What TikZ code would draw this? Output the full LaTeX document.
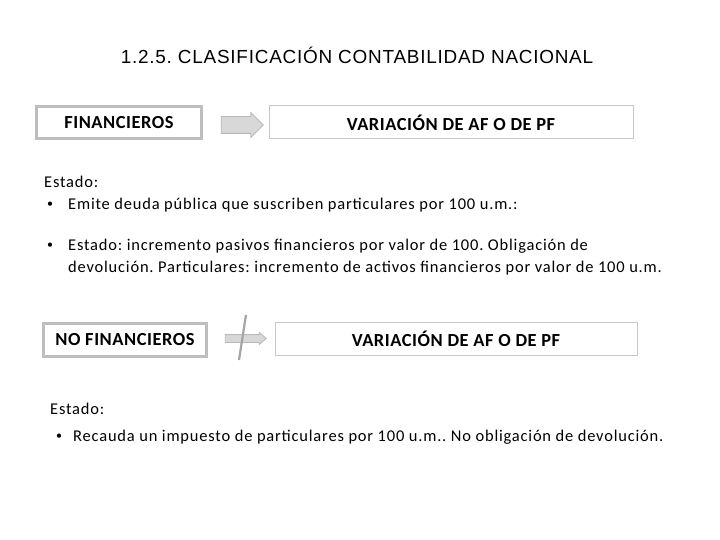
\documentclass[tikz,border=0pt]{standalone}
\usepackage{fontspec}
\setmainfont{Carlito}
\newfontfamily\bodyfont[LetterSpace=5]{Carlito}
\newfontfamily\boxfont[LetterSpace=3]{Carlito}
\newfontfamily\arialfont[LetterSpace=4]{Liberation Sans}
\usetikzlibrary{shapes.arrows}
\definecolor{boxgray}{RGB}{190,190,190}
\definecolor{thingray}{RGB}{200,200,200}
\definecolor{arrowfill}{RGB}{216,216,216}
\definecolor{arrowline}{RGB}{185,185,185}
\definecolor{slashgray}{RGB}{165,165,165}
\frenchspacing
\begin{document}
\begin{tikzpicture}[x=1bp,y=-1bp,
  thickbox/.style={draw=boxgray,line width=3bp,inner sep=0pt,anchor=center,font=\boxfont\bfseries\fontsize{18.5}{22}\selectfont},
  thinbox/.style={draw=thingray,line width=1bp,inner sep=0pt,anchor=center,font=\boxfont\bfseries\fontsize{18.5}{22}\selectfont},
  bigarrow/.style={single arrow,draw=arrowline,fill=arrowfill,line width=0.8bp,inner xsep=0pt,inner ysep=8bp,minimum height=42bp,single arrow head extend=4bp,single arrow tip angle=90,anchor=center},
  smallarrow/.style={single arrow,draw=arrowline,fill=arrowfill,line width=0.8bp,inner xsep=0pt,inner ysep=3.5bp,minimum height=41bp,single arrow head extend=2bp,single arrow tip angle=80,anchor=center},
  bodytext/.style={anchor=west,inner sep=0pt,font=\bodyfont\fontsize{16.5}{19}\selectfont},
  bullet/.style={anchor=center,inner sep=0pt,font=\fontsize{12}{14}\selectfont}]
\useasboundingbox (0,0) rectangle (720,540);
\fill[white] (0,0) rectangle (720,540);
\node[anchor=center,font=\arialfont\fontsize{19}{22}\selectfont] (title) at (357,55) {1.2.5. CLASIFICACIÓN CONTABILIDAD NACIONAL};
% first row
\node[thickbox,minimum width=165bp,minimum height=32bp] (fin) at (119,122.5) {FINANCIEROS};
\node[thinbox,minimum width=364bp,minimum height=33bp] (var1) at (451,122.5) {VARIACIÓN DE AF O DE PF};
\node[bigarrow] (arr1) at (238,125) {};
% text block 1
\node[bodytext] (t1) at (44,182) {Estado:};
\node[bullet] (b1) at (50,205) {•};
\node[bodytext] (t2) at (68,205) {Emite deuda pública que suscriben particulares por 100 u.m.:};
\node[bullet] (b2) at (50,246) {•};
\node[bodytext] (t3) at (68,246) {Estado: incremento pasivos financieros por valor de 100. Obligación de};
\node[bodytext] (t4) at (68,268) {devolución. Particulares: incremento de activos financieros por valor de 100 u.m.};
% second row
\node[thickbox,minimum width=163bp,minimum height=33bp] (nofin) at (125,340) {NO FINANCIEROS};
\node[thinbox,minimum width=362bp,minimum height=33bp] (var2) at (456,338.5) {VARIACIÓN DE AF O DE PF};
\node[smallarrow] (arr2) at (243.5,338.5) {};
\coordinate (s1) at (246,315);
\coordinate (s2) at (239,360);
\draw[slashgray,line width=2.2bp] (s1) -- (s2);
% text block 2
\node[bodytext] (t5) at (50,409) {Estado:};
\node[bullet] (b3) at (59,437) {•};
\node[bodytext] (t6) at (73,437) {Recauda un impuesto de particulares por 100 u.m.. No obligación de devolución.};
\end{tikzpicture}
\end{document}
